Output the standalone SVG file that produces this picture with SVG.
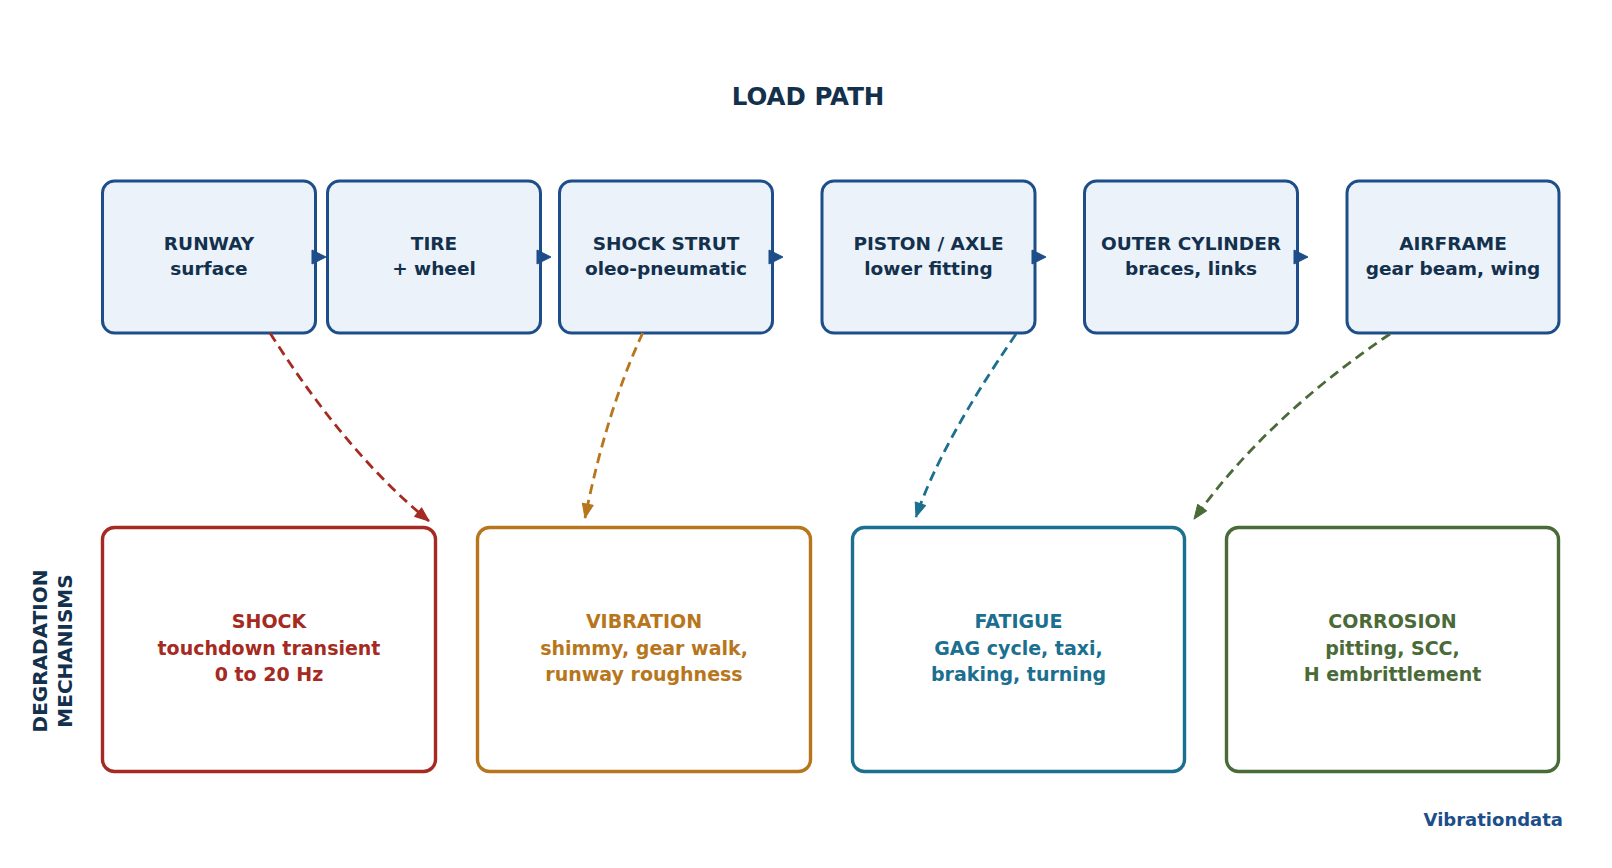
<svg xmlns="http://www.w3.org/2000/svg" width="1612" height="868" viewBox="0 0 1612 868">
<style>
text{font-family:"DejaVu Sans","Liberation Sans",sans-serif;font-weight:bold;text-anchor:middle}
.top rect{fill:#ebf2fa;stroke:#1d4e89;stroke-width:3}
.top text{fill:#13304c;font-size:18.5px}
.bot rect{fill:#ffffff;stroke-width:3.4}
.bot text{font-size:19px}
.dash{fill:none;stroke-width:2.8;stroke-dasharray:10 6}
.flow{fill:#1d4e89}
</style>
<defs>
<marker id="mr" markerUnits="userSpaceOnUse" markerWidth="16" markerHeight="14" viewBox="0 0 16 14" refX="15" refY="7" orient="auto"><path d="M1,1.5 L15,7 L1,12.5 Z" fill="#a52a21" stroke="#a52a21" stroke-width="1" stroke-linejoin="round"/></marker>
<marker id="mo" markerUnits="userSpaceOnUse" markerWidth="16" markerHeight="14" viewBox="0 0 16 14" refX="15" refY="7" orient="auto"><path d="M1,1.5 L15,7 L1,12.5 Z" fill="#b8761c" stroke="#b8761c" stroke-width="1" stroke-linejoin="round"/></marker>
<marker id="mt" markerUnits="userSpaceOnUse" markerWidth="16" markerHeight="14" viewBox="0 0 16 14" refX="15" refY="7" orient="auto"><path d="M1,1.5 L15,7 L1,12.5 Z" fill="#1b6f8f" stroke="#1b6f8f" stroke-width="1" stroke-linejoin="round"/></marker>
<marker id="mg" markerUnits="userSpaceOnUse" markerWidth="16" markerHeight="14" viewBox="0 0 16 14" refX="15" refY="7" orient="auto"><path d="M1,1.5 L15,7 L1,12.5 Z" fill="#4a6a38" stroke="#4a6a38" stroke-width="1" stroke-linejoin="round"/></marker>
</defs>
<rect width="1612" height="868" fill="#ffffff"/>
<text x="808" y="105" font-size="24.5px" fill="#13304c">LOAD PATH</text>

<g id="runway" class="top"><rect x="102.5" y="181" width="213" height="152" rx="12"/><text x="209" y="250">RUNWAY</text><text x="209" y="275">surface</text></g>
<g id="tire" class="top"><rect x="327.5" y="181" width="213" height="152" rx="12"/><text x="434" y="250">TIRE</text><text x="434" y="275">+ wheel</text></g>
<g id="strut" class="top"><rect x="559.5" y="181" width="213" height="152" rx="12"/><text x="666" y="250">SHOCK STRUT</text><text x="666" y="275">oleo-pneumatic</text></g>
<g id="piston" class="top"><rect x="822" y="181" width="213" height="152" rx="12"/><text x="928.5" y="250">PISTON / AXLE</text><text x="928.5" y="275">lower fitting</text></g>
<g id="cylinder" class="top"><rect x="1084.5" y="181" width="213" height="152" rx="12"/><text x="1191" y="250">OUTER CYLINDER</text><text x="1191" y="275">braces, links</text></g>
<g id="airframe" class="top"><rect x="1347" y="181" width="212" height="152" rx="12"/><text x="1453" y="250">AIRFRAME</text><text x="1453" y="275">gear beam, wing</text></g>

<g id="shock" class="bot"><rect x="102.5" y="527.5" width="333" height="244" rx="12" stroke="#a52a21"/><text fill="#a52a21" x="269" y="628">SHOCK</text><text fill="#a52a21" x="269" y="655">touchdown transient</text><text fill="#a52a21" x="269" y="681">0 to 20 Hz</text></g>
<g id="vibration" class="bot"><rect x="477.5" y="527.5" width="333" height="244" rx="12" stroke="#b8761c"/><text fill="#b8761c" x="644" y="628">VIBRATION</text><text fill="#b8761c" x="644" y="655">shimmy, gear walk,</text><text fill="#b8761c" x="644" y="681">runway roughness</text></g>
<g id="fatigue" class="bot"><rect x="852.5" y="527.5" width="332" height="244" rx="12" stroke="#1b6f8f"/><text fill="#1b6f8f" x="1018.5" y="628">FATIGUE</text><text fill="#1b6f8f" x="1018.5" y="655">GAG cycle, taxi,</text><text fill="#1b6f8f" x="1018.5" y="681">braking, turning</text></g>
<g id="corrosion" class="bot"><rect x="1226.5" y="527.5" width="332" height="244" rx="12" stroke="#4a6a38"/><text fill="#4a6a38" x="1392.5" y="628">CORROSION</text><text fill="#4a6a38" x="1392.5" y="655">pitting, SCC,</text><text fill="#4a6a38" x="1392.5" y="681">H embrittlement</text></g>

<g id="connectors">
<path class="flow" d="M312,250 L326,257 L312,264 Z" stroke="#1d4e89" stroke-width="1" stroke-linejoin="round"/>
<path class="flow" d="M537,250 L551,257 L537,264 Z" stroke="#1d4e89" stroke-width="1" stroke-linejoin="round"/>
<path class="flow" d="M769,250 L783,257 L769,264 Z" stroke="#1d4e89" stroke-width="1" stroke-linejoin="round"/>
<path class="flow" d="M1032,250 L1046,257 L1032,264 Z" stroke="#1d4e89" stroke-width="1" stroke-linejoin="round"/>
<path class="flow" d="M1294,250 L1308,257 L1294,264 Z" stroke="#1d4e89" stroke-width="1" stroke-linejoin="round"/>
<path class="dash" stroke="#a52a21" d="M270,333 Q347,454 429,521" marker-end="url(#mr)"/>
<path class="dash" stroke="#b8761c" d="M642.7,333 Q606.5,411 585,518" marker-end="url(#mo)"/>
<path class="dash" stroke="#1b6f8f" d="M1016,334 Q940,445 916,517" marker-end="url(#mt)"/>
<path class="dash" stroke="#4a6a38" d="M1390,334 Q1267,417 1194,519" marker-end="url(#mg)"/>
</g>

<text transform="translate(46.5,651) rotate(-90)" font-size="20px" fill="#13304c">DEGRADATION</text>
<text transform="translate(71.5,651) rotate(-90)" font-size="20px" fill="#13304c">MECHANISMS</text>
<text x="1563" y="826" font-size="18px" fill="#1d4e89" style="text-anchor:end">Vibrationdata</text>
</svg>
